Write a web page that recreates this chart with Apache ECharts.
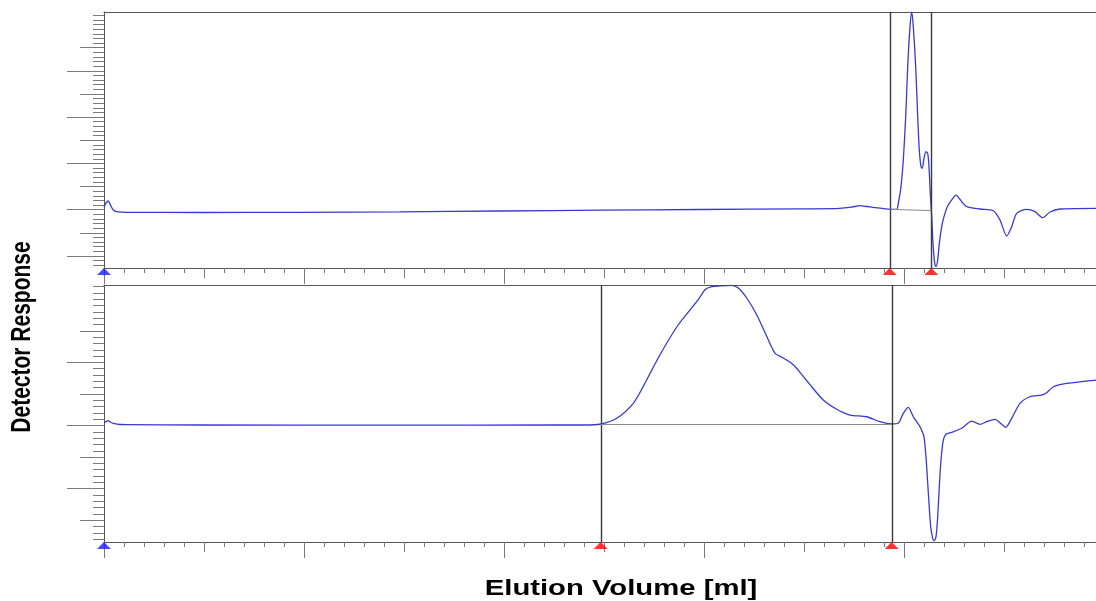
<!DOCTYPE html>
<html><head><meta charset="utf-8">
<script src="https://cdn.jsdelivr.net/npm/echarts@6/dist/echarts.min.js"></script>
<style>html,body{margin:0;padding:0;background:#fff}#c{width:1096px;height:601px}</style>
</head><body><div id="c"></div>
<script>
// ---------- DATA (elution volume in ml, detector response in axis units) ----------
const topVolume = [0,0.02,0.043,0.065,0.093,0.14,0.227,0.96,1.96,2.96,3.96,4.96,5.96,6.96,7.36,7.48,7.56,7.63,7.693,7.86,7.927,7.943,7.97,7.993,8.017,8.037,8.06,8.077,8.093,8.117,8.137,8.153,8.17,8.183,8.2,8.22,8.237,8.25,8.263,8.277,8.29,8.307,8.32,8.337,8.353,8.377,8.4,8.433,8.477,8.52,8.577,8.627,8.76,8.893,8.96,9.027,9.077,9.127,9.227,9.31,9.387,9.46,9.56,9.92];
const topResponse = [0.065,0.145,0.188,0.1,-0.006,-0.045,-0.056,-0.06,-0.056,-0.045,-0.028,-0.011,0.004,0.019,0.03,0.058,0.086,0.069,0.052,0.009,0.009,0.138,0.497,1.073,2.009,3.089,3.952,4.27,3.952,3.089,2.009,1.289,0.929,0.894,1.11,1.253,1.218,0.929,0.354,-0.151,-0.726,-1.158,-1.231,-1.086,-0.726,-0.367,-0.151,0.065,0.21,0.317,0.173,0.065,0.015,-0.022,-0.222,-0.568,-0.367,-0.078,0.009,-0.043,-0.173,-0.05,0.015,0.03];

const bottomVolume = [0,0.02,0.043,0.07,0.093,0.16,0.227,0.96,2.96,4.46,4.793,4.97,5.127,5.293,5.393,5.56,5.743,5.943,6.01,6.077,6.16,6.277,6.343,6.427,6.527,6.627,6.71,6.793,6.893,6.993,7.06,7.193,7.327,7.46,7.627,7.76,7.877,7.943,7.993,8.043,8.093,8.16,8.183,8.2,8.22,8.233,8.25,8.267,8.287,8.303,8.32,8.337,8.353,8.37,8.393,8.42,8.477,8.577,8.677,8.76,8.827,8.91,8.977,9.017,9.077,9.16,9.26,9.377,9.427,9.493,9.627,9.92];
const bottomResponse = [0.044,0.063,0.076,0.048,0.035,0.016,0.013,0.008,0.005,0.008,0.008,0.024,0.114,0.352,0.621,1.122,1.597,1.994,2.152,2.2,2.212,2.222,2.179,2.021,1.756,1.414,1.149,1.07,0.964,0.78,0.647,0.404,0.257,0.166,0.139,0.06,0.024,0.035,0.193,0.288,0.139,-0.019,-0.098,-0.177,-0.494,-0.811,-1.233,-1.604,-1.788,-1.826,-1.762,-1.445,-0.97,-0.547,-0.23,-0.139,-0.108,-0.044,0.071,0.019,0.06,0.098,0.019,-0.029,0.114,0.352,0.456,0.483,0.52,0.615,0.669,0.721];

const topCutoffs = [7.857, 8.273];
const topBaseline = [[7.857, 0.009], [8.273, -0.02]];
const bottomCutoffs = [4.967, 7.877];
const bottomBaseline = [[4.967, 0.024], [7.877, 0.024]];
const startMarker = [0];

const xTitle = 'Elution Volume [ml]';
const yTitle = 'Detector Response';

// ---------- LAYOUT ----------
const X_MIN = 0, X_MAX = 9.92;
const LEFT = 104, WIDTH = 992;
const panels = [
  { top: 12, height: 256, min: -1.259, max: 4.27,
    ticks: [ { lo: -1.2, hi: 4.2, step: 0.1, len: 11 },
             { lo: -0.5, hi: 3.5, step: 1, len: 24 },
             { lo: -1, hi: 3, step: 1, len: 37 } ] },
  { top: 285, height: 257, min: -1.846, max: 2.227,
    ticks: [ { lo: -1.8, hi: 2.2, step: 0.1, len: 11 },
             { lo: -1.5, hi: 1.5, step: 1, len: 24 },
             { lo: -1, hi: 1, step: 1, len: 37 } ] }
];
const AXIS_COLOR = '#555';
const TICK_COLOR = '#7a7a7a';
const LINE_COLOR = '#3838d4';

const grid = [], xAxis = [], yAxis = [];
const mainIdx = [];
panels.forEach((p, pi) => {
  const g = grid.length;
  mainIdx.push({ grid: g, x: xAxis.length, y: yAxis.length });
  grid.push({ left: LEFT, width: WIDTH, top: p.top, height: p.height });
  // main axes
  xAxis.push({ type: 'value', gridIndex: g, position: 'bottom', offset: 0, min: X_MIN, max: X_MAX, interval: 0.2,
    axisLine: { show: true, onZero: false, lineStyle: { color: AXIS_COLOR, width: 1 } },
    axisTick: { show: true, length: 5, lineStyle: { color: TICK_COLOR } },
    axisLabel: { show: false }, splitLine: { show: false } });
  yAxis.push({ type: 'value', gridIndex: g, position: 'left', min: p.min, max: p.max,
    axisLine: { show: true, onZero: false, lineStyle: { color: AXIS_COLOR, width: 1 } },
    axisTick: { show: false }, axisLabel: { show: false }, splitLine: { show: false } });
  // extra x tick levels
  [[1, 10], [2, 16]].forEach(([iv, len]) => {
    xAxis.push({ type: 'value', gridIndex: g, position: 'bottom', offset: 0, min: X_MIN, max: X_MAX, interval: iv,
      axisLine: { show: false, onZero: false },
      axisTick: { show: true, length: len, lineStyle: { color: TICK_COLOR } },
      axisLabel: { show: false }, splitLine: { show: false } });
  });
  // top frame line
  xAxis.push({ type: 'value', gridIndex: g, position: 'top', offset: 0, min: X_MIN, max: X_MAX,
    axisLine: { show: true, onZero: false, lineStyle: { color: AXIS_COLOR, width: 1 } },
    axisTick: { show: false }, axisLabel: { show: false }, splitLine: { show: false } });
  // y tick levels in their own aligned grids
  const ppu = p.height / (p.max - p.min);
  p.ticks.forEach(t => {
    const tg = grid.length;
    grid.push({ left: LEFT, width: WIDTH, top: p.top + (p.max - t.hi) * ppu, height: (t.hi - t.lo) * ppu });
    xAxis.push({ type: 'value', gridIndex: tg, show: false, min: 0, max: 1 });
    yAxis.push({ type: 'value', gridIndex: tg, position: 'left', offset: 0, min: t.lo, max: t.hi, interval: t.step,
      axisLine: { show: false, onZero: false },
      axisTick: { show: true, length: t.len, lineStyle: { color: TICK_COLOR, width: 1 } },
      axisLabel: { show: false }, splitLine: { show: false } });
  });
});

function zip(a, b) { return a.map((v, i) => [v, b[i]]); }

function traceSeries(pi, vol, resp, cutoffs, baseline) {
  const m = mainIdx[pi];
  return {
    type: 'line', xAxisIndex: m.x, yAxisIndex: m.y, data: zip(vol, resp),
    showSymbol: false, smooth: 0.25, clip: true, animation: false,
    lineStyle: { color: LINE_COLOR, width: 1.3 }, z: 3,
    markLine: {
      silent: true, symbol: 'none', animation: false, label: { show: false },
      data: cutoffs.map(c => ({ xAxis: c, lineStyle: { color: '#3a3a3a', width: 1.4, type: 'solid' } }))
        .concat([[{ coord: baseline[0], lineStyle: { color: '#8a8a8a', width: 1, type: 'solid' } }, { coord: baseline[1] }]])
    }
  };
}

function markerSeries(pi, xs, color) {
  const m = mainIdx[pi];
  return {
    type: 'scatter', xAxisIndex: m.x, yAxisIndex: m.y, clip: false, animation: false,
    silent: true, symbol: 'triangle', symbolSize: [14, 7], symbolOffset: [0, 3.5],
    itemStyle: { color: color }, z: 5,
    data: xs.map(x => [x, panels[pi].min])
  };
}

const series = [
  traceSeries(0, topVolume, topResponse, topCutoffs, topBaseline),
  traceSeries(1, bottomVolume, bottomResponse, bottomCutoffs, bottomBaseline),
  markerSeries(0, startMarker, '#1a1aff'),
  markerSeries(0, topCutoffs, '#ff0000'),
  markerSeries(1, startMarker, '#1a1aff'),
  markerSeries(1, bottomCutoffs, '#ff0000')
];

const chart = echarts.init(document.getElementById('c'), null, { renderer: 'canvas' });
chart.setOption({
  animation: false,
  backgroundColor: '#fff',
  grid, xAxis, yAxis, series,
  graphic: [
    { type: 'text', x: 621, y: 589, scaleX: 1.33, z: 10,
      style: { text: xTitle, font: 'bold 22px "Liberation Sans", Arial, sans-serif', fill: '#000',
        textAlign: 'center', textVerticalAlign: 'middle' } },
    { type: 'text', x: 22, y: 337, rotation: Math.PI / 2, scaleY: 1.3, z: 10,
      style: { text: yTitle, font: 'bold 21px "Liberation Sans", Arial, sans-serif', fill: '#000',
        textAlign: 'center', textVerticalAlign: 'middle' } }
  ]
});
</script>
</body></html>
